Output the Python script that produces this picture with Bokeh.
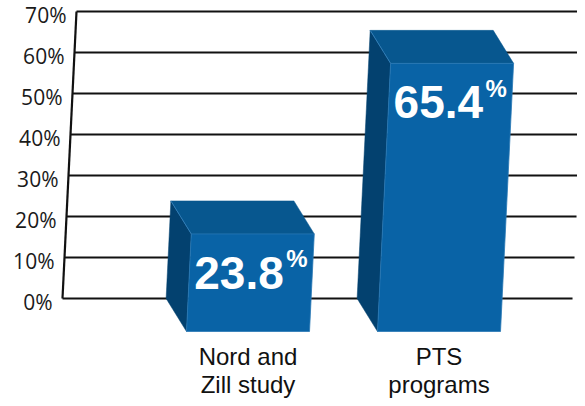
from bokeh.plotting import figure
from bokeh.models import Range1d
from bokeh.core.properties import value
from bokeh.embed import file_html
from bokeh.resources import INLINE

# ---- data ----
categories_line1 = ["Nord and", "PTS"]
categories_line2 = ["Zill study", "programs"]
values = [23.8, 65.4]
value_labels = ["23.8", "65.4"]
ticks = [0, 10, 20, 30, 40, 50, 60, 70]
tick_labels = ["0%", "10%", "20%", "30%", "40%", "50%", "60%", "70%"]

# ---- geometry (in data units) ----
W_PX, H_PX = 577, 398
PX_PER_CAT = 191.0
PX_PER_PCT = 287.0 / 70.0
x0 = -1.3043
x1 = x0 + W_PX / PX_PER_CAT
y1 = 70 + 11 / PX_PER_PCT
y0 = y1 - H_PX / PX_PER_PCT

s = 0.2 / PX_PER_CAT          # perspective skew: x units per percent
bw = 0.644                    # bar front width
dx = 22 / PX_PER_CAT          # depth offset (x)
dy = 33 / PX_PER_PCT          # depth offset (y, percent)
axL = -0.9797                 # left axis at 0%
axR = 1.6906                  # gridline right end at 0%


def sk(x, y):
    return x + s * y


p = figure(width=W_PX, height=H_PX, x_range=Range1d(x0, x1), y_range=Range1d(y0, y1),
           output_backend="svg", toolbar_location=None, min_border=0)
p.axis.visible = False
p.grid.visible = False
p.outline_line_color = None
p.background_fill_color = "white"
p.border_fill_color = "white"

# gridlines
gx0 = [sk(axL, t) for t in ticks]
gx1 = [sk(axR, t) for t in ticks]
p.segment(x0=gx0, y0=ticks, x1=gx1, y1=ticks, line_color="#111111", line_width=2.2)
# slanted axis line
p.segment(x0=[sk(axL, 0)], y0=[0], x1=[sk(axL, 70)], y1=[70], line_color="#111111", line_width=2.2)

# tick labels
p.text(x=gx0, y=ticks, text=tick_labels, x_offset=-10, y_offset=3,
       text_align="right", text_baseline="middle", text_font=value("Open Sans"),
       text_font_size="21px", text_color="#1a1a1a")

# bars
side_xs, side_ys, top_xs, top_ys, front_xs, front_ys = [], [], [], [], [], []
edge_x0, edge_y0, edge_x1, edge_y1 = [], [], [], []
for i, v in enumerate(values):
    c = float(i)
    fl, fr = c - bw / 2, c + bw / 2
    bl, br = fl - dx, fr - dx
    fb, ft = -dy, v - dy
    pts = [(bl, 0), (bl, v), (fl, ft), (fl, fb)]
    side_xs.append([sk(x, y) for x, y in pts]); side_ys.append([y for x, y in pts])
    pts = [(bl, v), (br, v), (fr, ft), (fl, ft)]
    top_xs.append([sk(x, y) for x, y in pts]); top_ys.append([y for x, y in pts])
    pts = [(fl, fb), (fl, ft), (fr, ft), (fr, fb)]
    front_xs.append([sk(x, y) for x, y in pts]); front_ys.append([y for x, y in pts])
    edge_x0.append(sk(bl, v)); edge_y0.append(v); edge_x1.append(sk(fl, ft)); edge_y1.append(ft)

p.patches(side_xs, side_ys, fill_color="#03416f", line_color="#03416f", line_width=0.5)
p.patches(top_xs, top_ys, fill_color="#07578f", line_color="#07578f", line_width=0.5)
p.patches(front_xs, front_ys, fill_color="#0963a6", line_color="#2a78b5", line_width=0.8)
p.segment(x0=edge_x0, y0=edge_y0, x1=edge_x1, y1=edge_y1, line_color="#3a86c2", line_width=0.8)

# value labels
lab_x = [sk(i - bw / 2, v - dy) for i, v in enumerate(values)]
lab_y = [v - dy for v in values]
p.text(x=lab_x, y=lab_y, text=value_labels, x_offset=3, y_offset=39,
       text_align="left", text_baseline="alphabetic", text_font=value("Liberation Sans"),
       text_font_style="bold", text_font_size="46px", text_color="white")
p.text(x=lab_x, y=lab_y, text=["%"] * len(values), x_offset=95, y_offset=25,
       text_align="left", text_baseline="alphabetic", text_font=value("Liberation Sans"),
       text_font_style="bold", text_font_size="24px", text_color="white")

# category labels
cat_x = [sk(float(i), -dy) for i in range(len(values))]
cat_y = [-dy] * len(values)
p.text(x=cat_x, y=cat_y, text=categories_line1, y_offset=11,
       text_align="center", text_baseline="top", text_font=value("Liberation Sans"),
       text_font_size="24px", text_color="#111111")
p.text(x=cat_x, y=cat_y, text=categories_line2, y_offset=39,
       text_align="center", text_baseline="top", text_font=value("Liberation Sans"),
       text_font_size="24px", text_color="#111111")

open("out.html", "w").write(file_html(p, INLINE))
